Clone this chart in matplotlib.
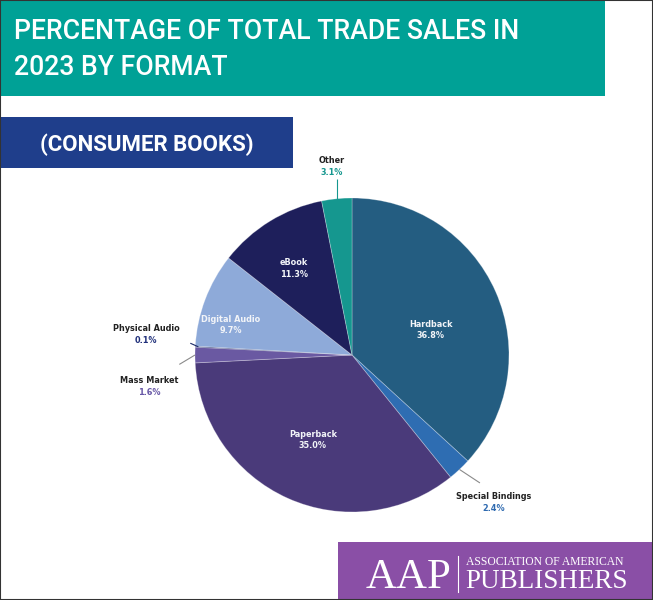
import matplotlib
matplotlib.use("Agg")
import matplotlib.pyplot as plt
from matplotlib.patches import Rectangle
import numpy as np

# ---- data ----
categories = ["Hardback", "Special Bindings", "Paperback", "Mass Market",
              "Physical Audio", "Digital Audio", "eBook", "Other"]
shares = [36.8, 2.4, 35.0, 1.6, 0.1, 9.7, 11.3, 3.1]
colors = ["#245d81", "#2e6db2", "#4a3a7a", "#6a59a2",
          "#1c2b68", "#8eaad9", "#1e1f5b", "#15978f"]
pct_labels = [f"{v:.1f}%" for v in shares]

title_lines = ["PERCENTAGE OF TOTAL TRADE SALES IN", "2023 BY FORMAT"]
subtitle = "(CONSUMER BOOKS)"

W, H = 653, 600
fig = plt.figure(figsize=(W / 100, H / 100), dpi=100)
fig.patch.set_facecolor("white")


def fx(x):
    return x / W


def fy(y):
    return 1 - y / H


def prect(x0, y0, x1, y1, color, **kw):
    fig.patches.append(Rectangle((fx(x0), fy(y1)), (x1 - x0) / W, (y1 - y0) / H,
                                 transform=fig.transFigure, facecolor=color,
                                 edgecolor="none", **kw))


# title bar
prect(0, 0, 605, 96, "#00a196")
fig.text(fx(14), fy(39), title_lines[0], color="white", fontsize=19.2,
         family="Roboto", weight="medium", va="baseline", ha="left")
fig.text(fx(14), fy(75), title_lines[1], color="white", fontsize=19.2,
         family="Roboto", weight="medium", va="baseline", ha="left")

# subtitle bar
prect(0, 117, 293, 168, "#1f3e8b")
fig.text(fx(147), fy(151), subtitle, color="white", fontsize=16,
         family="Roboto", weight="bold", va="baseline", ha="center")

# logo bar
prect(338, 542, 653, 600, "#8a4fa6")
fig.text(fx(366), fy(588), "AAP", color="white", fontsize=31,
         family="Liberation Serif", va="baseline", ha="left")
fig.lines.append(plt.Line2D([fx(458), fx(458)], [fy(556), fy(592)],
                            transform=fig.transFigure, color="white", lw=0.8))
fig.text(fx(466), fy(565), "ASSOCIATION OF AMERICAN", color="white", fontsize=8.35,
         family="Liberation Serif", va="baseline", ha="left")
fig.text(fx(465), fy(588), "PUBLISHERS", color="white", fontsize=19.5,
         family="Liberation Serif", va="baseline", ha="left")

# pie
cx, cy, r = 352, 355, 157
ax = fig.add_axes([fx(cx - r), fy(cy + r), 2 * r / W, 2 * r / H])
wedges, _ = ax.pie(shares, colors=colors, startangle=90, counterclock=False,
                   radius=1.0,
                   wedgeprops=dict(linewidth=0.6, edgecolor=(1, 1, 1, 0.3)))
ax.set_xlim(-1, 1)
ax.set_ylim(-1, 1)
ax.set_aspect("equal")
ax.axis("off")

fs = 5.9
dy_in = 0.036
inside = {
    "Hardback": (0.50, 0.16),
    "Paperback": (-0.25, -0.54),
    "Digital Audio": (-0.77, 0.19),
    "eBook": (-0.37, 0.55),
}
for name, (x, y) in inside.items():
    ax.text(x, y + dy_in, name, color="#f2f4f8", fontsize=fs, weight="bold",
            ha="center", va="center", family="DejaVu Sans")
    i = categories.index(name)
    ax.text(x, y - dy_in, pct_labels[i], color="#f2f4f8", fontsize=fs,
            weight="bold", ha="center", va="center", family="DejaVu Sans")

outside = {
    "Other": ((-0.13, 1.24), "#15978f"),
    "Physical Audio": ((-1.31, 0.17), "#1f2f7a"),
    "Mass Market": ((-1.29, -0.16), "#6757a6"),
    "Special Bindings": ((0.90, -0.90), "#2e6ab0"),
}
for name, ((x, y), pc) in outside.items():
    i = categories.index(name)
    ax.text(x, y, name, color="#222222", fontsize=fs, weight="bold",
            ha="center", va="center", family="DejaVu Sans")
    ax.text(x, y - 0.08, pct_labels[i], color=pc, fontsize=fs, weight="bold",
            ha="center", va="center", family="DejaVu Sans")

# leader lines (start at each wedge's mid angle)
leaders = {
    "Other": (1.0, (None, 1.12), "#15978f"),
    "Physical Audio": (0.98, (-1.03, 0.075), "#1c2b68"),
    "Mass Market": (1.0, (-1.10, -0.06), "#8a8a8a"),
    "Special Bindings": (1.0, (0.815, -0.815), "#8a8a8a"),
}
for name, (r0, (ex, ey), lc) in leaders.items():
    w = wedges[categories.index(name)]
    a = np.deg2rad((w.theta1 + w.theta2) / 2)
    sx, sy = r0 * np.cos(a), r0 * np.sin(a)
    if ex is None:
        ex = sx
    ax.plot([sx, ex], [sy, ey], color=lc, lw=0.8, clip_on=False,
            solid_capstyle="butt")

# thin frame around image
fig.patches.append(Rectangle((0, 0), 1, 1, transform=fig.transFigure,
                             fill=False, edgecolor="#333333", lw=1.5))

fig.savefig("out.png", dpi=100)
